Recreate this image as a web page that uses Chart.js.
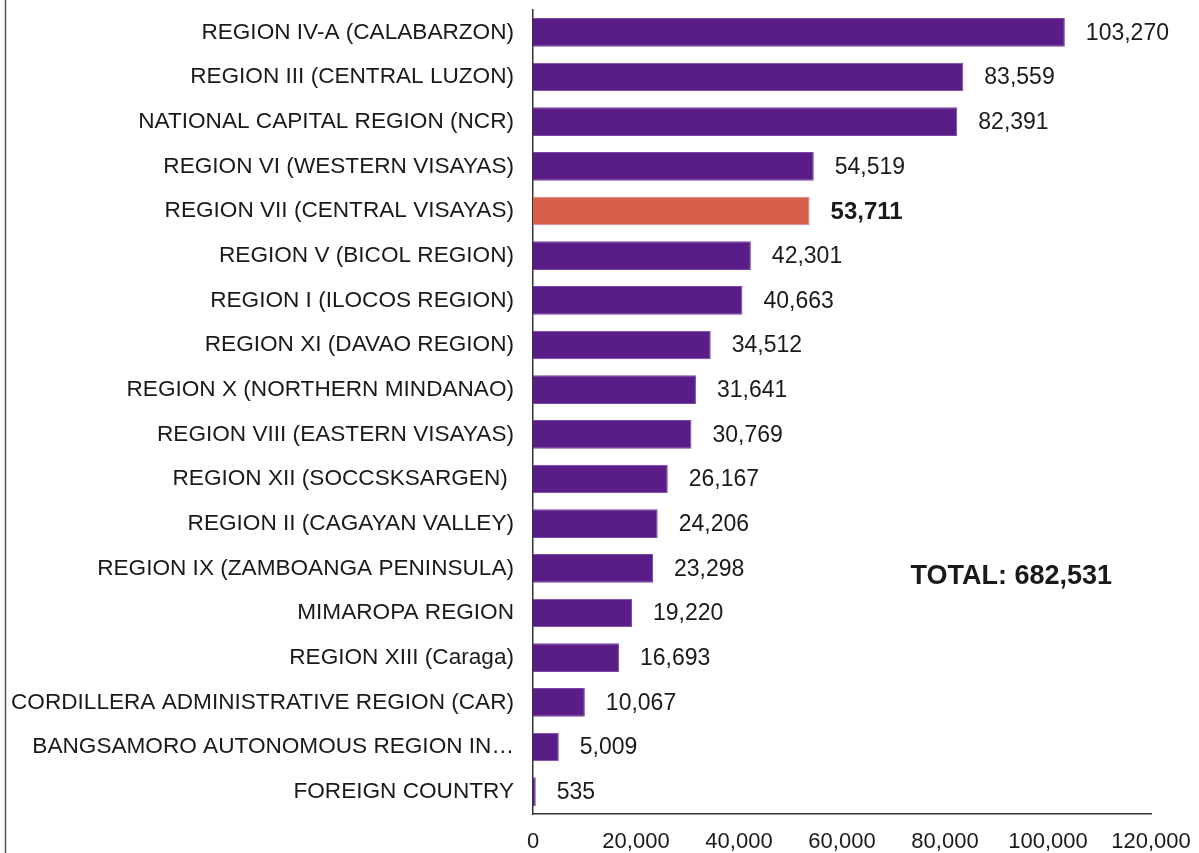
<!DOCTYPE html>
<html>
<head>
<meta charset="utf-8">
<script src="https://cdn.jsdelivr.net/npm/chart.js@4"></script>
<style>
  html, body { margin: 0; padding: 0; background: #fff; }
  #wrap { width: 1199px; height: 853px; position: relative; }
</style>
</head>
<body>
<div id="wrap"><canvas id="regionChart" width="1199" height="853"></canvas></div>
<script>
var regions = [
  "REGION IV-A (CALABARZON)",
  "REGION III (CENTRAL LUZON)",
  "NATIONAL CAPITAL REGION (NCR)",
  "REGION VI (WESTERN VISAYAS)",
  "REGION VII (CENTRAL VISAYAS)",
  "REGION V (BICOL REGION)",
  "REGION I (ILOCOS REGION)",
  "REGION XI (DAVAO REGION)",
  "REGION X (NORTHERN MINDANAO)",
  "REGION VIII (EASTERN VISAYAS)",
  "REGION XII (SOCCSKSARGEN) ",
  "REGION II (CAGAYAN VALLEY)",
  "REGION IX (ZAMBOANGA PENINSULA)",
  "MIMAROPA REGION",
  "REGION XIII (Caraga)",
  "CORDILLERA ADMINISTRATIVE REGION (CAR)",
  "BANGSAMORO AUTONOMOUS REGION IN\u2026",
  "FOREIGN COUNTRY"
];
var counts = [103270, 83559, 82391, 54519, 53711, 42301, 40663, 34512, 31641, 30769, 26167, 24206, 23298, 19220, 16693, 10067, 5009, 535];
var highlight = "REGION VII (CENTRAL VISAYAS)";
var totalText = "TOTAL: 682,531";
var xTicks = [0, 20000, 40000, 60000, 80000, 100000, 120000];

var purple = "#5a1c87", purpleEdge = "#7a45a6";
var coral = "#d6604b", coralEdge = "#e0849a";
var fontFamily = 'Arial, "Liberation Sans", sans-serif';

var barColors = regions.map(function (r) { return r === highlight ? coral : purple; });
var edgeColors = regions.map(function (r) { return r === highlight ? coralEdge : purpleEdge; });

var extras = {
  id: 'extras',
  afterDatasetsDraw: function (chart) {
    var ctx = chart.ctx;
    var meta = chart.getDatasetMeta(0);
    ctx.save();
    ctx.fillStyle = '#1a1a1a';
    ctx.textBaseline = 'middle';
    ctx.textAlign = 'left';
    meta.data.forEach(function (bar, i) {
      var bold = regions[i] === highlight;
      ctx.font = (bold ? 'bold 24px ' : '23px ') + fontFamily;
      ctx.fillText(counts[i].toLocaleString('en-US'), bar.x + 21, bar.y + 1);
    });
    // total annotation
    var xs = chart.scales.x, ys = chart.scales.y;
    ctx.font = 'bold 27px ' + fontFamily;
    ctx.fillText(totalText, xs.getPixelForValue(73300), ys.getPixelForValue(12) + 8);
    // left frame line
    ctx.strokeStyle = '#555';
    ctx.lineWidth = 1.5;
    ctx.beginPath();
    ctx.moveTo(5.5, 0);
    ctx.lineTo(5.5, 853);
    ctx.stroke();
    ctx.restore();
  }
};

new Chart(document.getElementById('regionChart'), {
  type: 'bar',
  data: {
    labels: regions,
    datasets: [{
      data: counts,
      backgroundColor: barColors,
      borderColor: edgeColors,
      borderWidth: 1,
      borderSkipped: 'left',
      categoryPercentage: 1,
      barPercentage: 0.64
    }]
  },
  options: {
    indexAxis: 'y',
    responsive: false,
    animation: false,
    devicePixelRatio: 1,
    layout: { padding: { top: 10, right: 48, left: 0, bottom: 0 } },
    plugins: { legend: { display: false }, tooltip: { enabled: false } },
    scales: {
      x: {
        min: 0,
        max: 120000,
        afterBuildTicks: function (scale) {
          scale.ticks = xTicks.map(function (v) { return { value: v }; });
        },
        afterFit: function (scale) { scale.height = 39; scale.paddingLeft = 0; scale.paddingRight = 0; },
        grid: { display: false, drawTicks: false },
        border: { display: true, color: '#333', width: 1.5 },
        ticks: {
          padding: 15,
          color: '#1a1a1a',
          font: { family: fontFamily, size: 22 },
          callback: function (v) { return Number(v).toLocaleString('en-US'); }
        }
      },
      y: {
        afterFit: function (scale) { scale.width = 533; scale.paddingTop = 0; scale.paddingBottom = 0; },
        grid: { display: false, drawTicks: false },
        border: { display: true, color: '#333', width: 1.5 },
        ticks: {
          padding: 19,
          autoSkip: false,
          color: '#1a1a1a',
          font: { family: fontFamily, size: 22.6 }
        }
      }
    }
  },
  plugins: [extras]
});
</script>
</body>
</html>
